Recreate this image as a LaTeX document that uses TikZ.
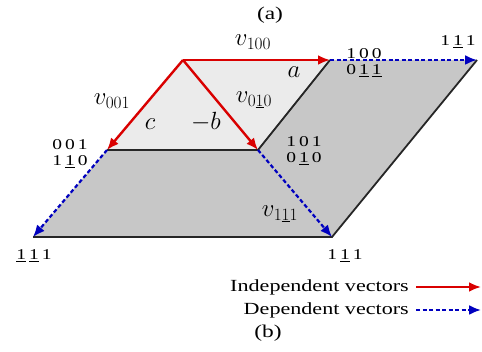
\documentclass[tikz,border=0pt]{standalone}
\usepackage{fontspec}
\setmainfont{Liberation Serif}
\newfontfamily\widefont[FakeStretch=1.3]{Liberation Serif}
\usetikzlibrary{arrows.meta}
\tikzset{
  indep/.style={color=red!85!black, line width=2.4pt, -{Latex[length=12pt,width=10pt]}},
  dep/.style={color=blue!75!black, line width=2.2pt, dash pattern=on 4pt off 2.5pt, -{Latex[length=12pt,width=10pt]}},
  rim/.style={color=black!85, line width=1.8pt},
  state/.style={font=\widefont\fontsize{15}{16}\selectfont, inner sep=1pt, align=left},
  vlabel/.style={font=\fontsize{23}{23}\selectfont, inner sep=1pt},
  side/.style={font=\fontsize{28}{28}\selectfont, inner sep=1pt},
  legend/.style={font=\widefont\fontsize{17}{17}\selectfont, inner sep=1pt},
}
\newcommand{\negone}{\underline{1}}
\newcommand{\gap}{\hspace{3pt}}
\begin{document}
\begin{tikzpicture}[x=1pt,y=-1pt]
        \useasboundingbox (0,0) rectangle (482,352);
        % vertices
        \coordinate (o) at (183,60);
        \coordinate (p100) at (330,60);
        \coordinate (ptr) at (477,60);
        \coordinate (p001) at (107,150);
        \coordinate (p101) at (258,150);
        \coordinate (pbl) at (33,237);
        \coordinate (pbr) at (332,237);
        % regions
        \fill[black!22] (p001) -- (p101) -- (p100) -- (ptr) -- (pbr) -- (pbl) -- cycle;
        \fill[black!8] (o) -- (p100) -- (p101) -- (p001) -- cycle;
        \draw[rim] (p001) -- (p101) -- (p100);
        \draw[rim] (ptr) -- (pbr) -- (pbl);
        % dependent vectors
        \draw[dep] (p100) -- (ptr);
        \draw[dep] (p001) -- (pbl);
        \draw[dep] (p101) -- (pbr);
        % independent vectors
        \draw[indep] (o) -- (p100);
        \draw[indep] (o) -- (p001);
        \draw[indep] (o) -- (p101);
        %
        \node[vlabel] (v100) at (253,42) {$v_{100}$};
        \node[vlabel] (v001) at (112,101) {$v_{001}$};
        \node[vlabel] (v010) at (254,100) {$v_{0\underline{1}0}$};
        \node[vlabel] (v111) at (280,214) {$v_{1\underline{1}1}$};
        \node[side] (la) at (294,72) {$a$};
        \node[side] (lc) at (150,124) {$c$};
        \node[side] (lb) at (206,122) {$-b$};
        %
        \node[state] (s100) at (364,63) {1\gap0\gap0\\0\gap\negone\gap\negone};
        \node[state] (str) at (458,42) {1\gap\negone\gap1};
        \node[state] (s001) at (70,154) {0\gap0\gap1\\1\gap\negone\gap0};
        \node[state] (s101) at (304,151) {1\gap0\gap1\\0\gap\negone\gap0};
        \node[state] (sbl) at (34,256) {\negone\gap\negone\gap1};
        \node[state] (sbr) at (345,256) {1\gap\negone\gap1};
        %
        \node[legend, anchor=east] (tind) at (410,287) {Independent vectors};
        \node[legend, anchor=east] (tdep) at (410,310) {Dependent vectors};
        \coordinate (eind) at (481,287);
        \coordinate (edep) at (481,310);
        \draw[indep] ([xshift=6pt]tind.east) -- (eind);
        \draw[dep] ([xshift=6pt]tdep.east) -- (edep);
        \node[legend, font=\widefont\fontsize{18}{18}\selectfont] (capa) at (270,15) {(a)};
        \node[legend, font=\widefont\fontsize{18}{18}\selectfont] (capb) at (268,333) {(b)};
\end{tikzpicture}
\end{document}
